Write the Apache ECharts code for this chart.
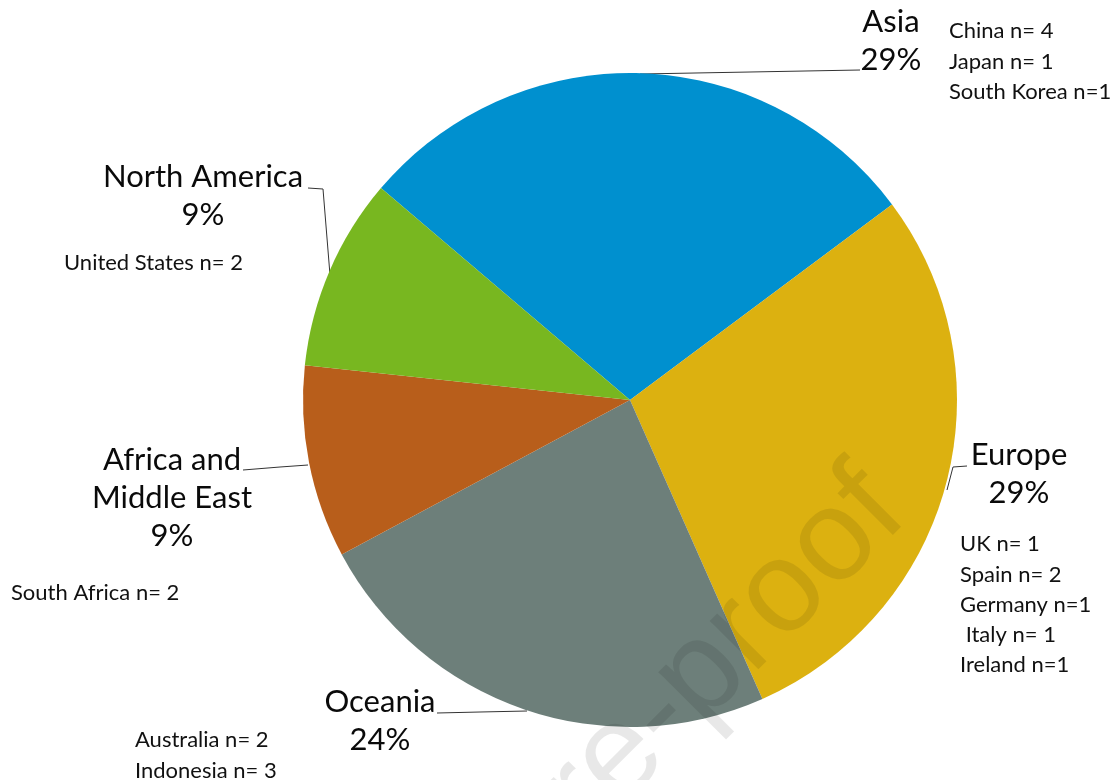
<!DOCTYPE html>
<html>
<head>
<meta charset="utf-8">
<script src="https://cdn.jsdelivr.net/npm/echarts@6/dist/echarts.min.js"></script>
<style>
  html, body { margin: 0; padding: 0; background: #fff; }
  #chart { width: 1120px; height: 780px; }
</style>
</head>
<body>
<div id="chart"></div>
<script>
// regions, study counts and the rounded shares printed on the figure
const regions = ['Asia', 'Europe', 'Oceania', 'Africa and\nMiddle East', 'North America']
const counts = [6, 6, 5, 2, 2]
const pctLabels = ['29%', '29%', '24%', '9%', '9%']

// countries per region
const asiaCountries = ['China n= 4', 'Japan n= 1', 'South Korea n=1']
const europeCountries = ['UK n= 1', 'Spain n= 2', 'Germany n=1', ' Italy n= 1', 'Ireland n=1']
const oceaniaCountries = ['Australia n= 2', 'Indonesia n= 3']
const africaCountries = ['South Africa n= 2']
const northAmericaCountries = ['United States n= 2']

const colors = ['#0090CF', '#DCB110', '#6D7F7A', '#B85E1B', '#78B720']

// label block centres and leader lines (layout only)
const labelPos = [
  { x: 891, y: 41, line: [[640, 74], [750, 72], [860, 70]] },
  { x: 1019, y: 474, line: [[947, 490], [953, 467], [967, 466]] },
  { x: 380, y: 721, line: [[527, 711], [480, 712], [437, 713]] },
  { x: 172, y: 498, line: [[308, 465], [280, 467], [243, 470]] },
  { x: 203, y: 196, line: [[330, 275], [323, 189], [308, 188]] }
]

const labelFont = 'Lato'
const noteFont = 'Lato'

function noteText(lines, x, y) {
  return {
    type: 'text',
    x: x,
    y: y,
    z: 10,
    style: {
      text: lines.join('\n'),
      font: '22px ' + noteFont,
      lineHeight: 30.3,
      fill: '#111',
      align: 'left',
      verticalAlign: 'top'
    }
  }
}

const chart = echarts.init(document.getElementById('chart'))
chart.setOption({
  animation: false,
  color: colors,
  series: [
    {
      type: 'pie',
      center: [630, 400],
      radius: 327,
      startAngle: 139.6,
      clockwise: true,
      data: regions.map((name, i) => ({ name: name, value: counts[i] })),
      itemStyle: { borderWidth: 0 },
      label: {
        show: true,
        position: 'outside',
        formatter: p => p.name + '\n' + pctLabels[p.dataIndex],
        fontFamily: labelFont,
        fontSize: 31,
        lineHeight: 38,
        color: '#0a0a0a',
        align: 'center'
      },
      labelLine: {
        show: true,
        lineStyle: { color: '#333', width: 1 }
      },
      labelLayout: p => {
        const pos = labelPos[p.dataIndex]
        return {
          x: pos.x,
          y: pos.y,
          align: 'center',
          verticalAlign: 'middle',
          labelLinePoints: pos.line
        }
      },
      emphasis: { disabled: true }
    }
  ],
  graphic: [
    noteText(asiaCountries, 949, 16),
    noteText(europeCountries, 960, 529),
    noteText(oceaniaCountries, 135, 725),
    noteText(africaCountries, 11, 578),
    noteText(northAmericaCountries, 64, 248),
    {
      type: 'text',
      x: 885,
      y: 492,
      rotation: Math.PI / 4,
      z: 20,
      silent: true,
      style: {
        text: 'Journal Pre-proof',
        font: '130px "Liberation Sans"',
        fill: 'rgba(0,0,0,0.09)',
        align: 'right',
        verticalAlign: 'middle'
      }
    }
  ]
})
</script>
</body>
</html>
